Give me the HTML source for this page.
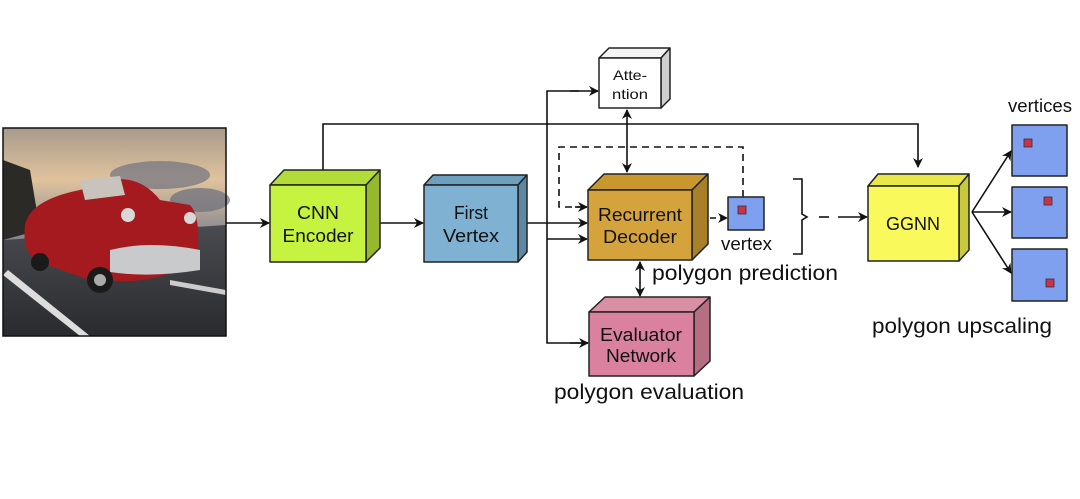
<!DOCTYPE html>
<html><head><meta charset="utf-8"><style>
html,body{margin:0;padding:0;background:#fff;}
svg{display:block;}
text{font-family:"Liberation Sans",sans-serif;fill:#111;}
</style></head><body>
<svg width="1080" height="499" viewBox="0 0 1080 499" xmlns="http://www.w3.org/2000/svg">
<defs>
<marker id="ah" markerWidth="10" markerHeight="10" refX="9" refY="5" orient="auto" markerUnits="userSpaceOnUse">
<path d="M0,0 L10,5 L0,10 L3,5 z" fill="#111"/></marker>
<marker id="ahs" markerWidth="10" markerHeight="10" refX="1" refY="5" orient="auto" markerUnits="userSpaceOnUse">
<path d="M10,0 L0,5 L10,10 L7,5 z" fill="#111"/></marker>
<linearGradient id="sky" x1="0" y1="0" x2="0" y2="1">
<stop offset="0" stop-color="#a89a8c"/><stop offset="0.25" stop-color="#e0c39c"/><stop offset="0.5" stop-color="#8c8a92"/><stop offset="1" stop-color="#3a3c40"/></linearGradient>
<linearGradient id="road" x1="0" y1="0" x2="0" y2="1">
<stop offset="0" stop-color="#4a4b50"/><stop offset="1" stop-color="#2a2b2e"/></linearGradient>
</defs>

<rect x="3" y="128" width="223" height="208" fill="url(#sky)"/>
<ellipse cx="160" cy="175" rx="50" ry="14" fill="#6f7280" opacity="0.7"/>
<ellipse cx="200" cy="200" rx="30" ry="12" fill="#6a6e7c" opacity="0.7"/>
<path d="M3,240 L226,225 L226,336 L3,336 z" fill="url(#road)"/>
<path d="M3,275 L80,336 L90,336 L8,270 z" fill="#ddd"/>
<path d="M170,280 L226,290 L226,295 L170,285 z" fill="#ccc"/>
<path d="M3,160 L30,170 L40,230 L3,240 z" fill="#2b2a26"/>
<path d="M25,225 Q30,200 80,190 L110,180 Q140,175 160,200 L190,205 Q200,215 198,250 L180,270 Q140,285 110,280 L90,280 Q60,270 35,260 Q22,250 25,225 z" fill="#a51a1f"/>
<path d="M80,180 L120,176 L125,195 L85,200 z" fill="#c8c4bd"/>
<path d="M110,250 Q150,240 200,250 L200,270 Q150,278 110,272 z" fill="#c9cacc"/>
<circle cx="128" cy="215" r="7" fill="#d8d8d8"/><circle cx="190" cy="218" r="6" fill="#d8d8d8"/>
<circle cx="100" cy="280" r="13" fill="#1a1a1a"/><circle cx="100" cy="280" r="6" fill="#aaa"/>
<circle cx="40" cy="262" r="9" fill="#1a1a1a"/>
<rect x="3" y="128" width="223" height="208" fill="none" stroke="#111" stroke-width="1.5"/>

<g stroke="#111" stroke-width="1.6" fill="none">
<line x1="226" y1="223" x2="269" y2="223" marker-end="url(#ah)"/>
<polyline points="323,170 323,124 918,124 918,167" marker-end="url(#ah)"/>
<line x1="366" y1="223" x2="423" y2="223" marker-end="url(#ah)"/>
<line x1="518" y1="223" x2="587" y2="223" marker-end="url(#ah)"/>
<line x1="547" y1="239" x2="587" y2="239" marker-end="url(#ah)"/>
<polyline points="579,91 547,91 547,343 588,343" />
<line x1="570" y1="91" x2="598" y2="91" marker-end="url(#ah)"/>
<line x1="570" y1="343" x2="588" y2="343" marker-end="url(#ah)"/>
<line x1="627" y1="110" x2="627" y2="172" marker-start="url(#ahs)" marker-end="url(#ah)"/>
<line x1="640" y1="262" x2="640" y2="296" marker-start="url(#ahs)" marker-end="url(#ah)"/>
<polyline points="743,197 743,147 559,147 559,207 580,207" stroke-dasharray="7,5"/>
<line x1="575" y1="207" x2="587" y2="207" marker-end="url(#ah)"/>
<line x1="710" y1="218" x2="727" y2="218" stroke-dasharray="6,4" marker-end="url(#ah)"/>
<path d="M793,179 L802,179 L802,214 L807,217 L802,220 L802,254 L793,254"/>
<line x1="819" y1="217" x2="829" y2="217"/>
<line x1="838" y1="217" x2="867" y2="217" marker-end="url(#ah)"/>
<line x1="972" y1="212" x2="1011" y2="151" marker-end="url(#ah)"/>
<line x1="972" y1="212" x2="1011" y2="212" marker-end="url(#ah)"/>
<line x1="972" y1="212" x2="1011" y2="273" marker-end="url(#ah)"/>
</g>

<g stroke="#222" stroke-width="1.5" stroke-linejoin="round">
<path d="M270,185 L284,170 L380,170 L366,185 z" fill="#b2dd38"/>
<path d="M366,185 L380,170 L380,248 L366,262 z" fill="#95b82c"/>
<rect x="270" y="185" width="96" height="77" fill="#c6f33f"/>
<path d="M424,185 L433,175 L527,175 L518,185 z" fill="#6f9fbf"/>
<path d="M518,185 L527,175 L527,252 L518,262 z" fill="#5c88a6"/>
<rect x="424" y="185" width="94" height="77" fill="#7eb1d2"/>
<path d="M588,190 L604,174 L708,174 L692,190 z" fill="#c8972e"/>
<path d="M692,190 L708,174 L708,244 L692,260 z" fill="#a8802a"/>
<rect x="588" y="190" width="104" height="70" fill="#d5a33b"/>
<path d="M599,58 L609,48 L670,48 L661,58 z" fill="#f4f4f4"/>
<path d="M661,58 L670,48 L670,99 L661,108 z" fill="#cfcfcf"/>
<rect x="599" y="58" width="62" height="50" fill="#fff"/>
<path d="M589,312 L605,297 L710,297 L694,312 z" fill="#d990a6"/>
<path d="M694,312 L710,297 L710,361 L694,376 z" fill="#b56e84"/>
<rect x="589" y="312" width="105" height="64" fill="#d9819e"/>
<path d="M868,186 L878,174 L969,174 L959,186 z" fill="#e8e84a"/>
<path d="M959,186 L969,174 L969,250 L959,261 z" fill="#c9c93c"/>
<rect x="868" y="186" width="91" height="75" fill="#f9f95c"/>
<rect x="728" y="197" width="36" height="33" fill="#7f9fef"/>
<rect x="1012" y="125" width="55" height="51" fill="#7f9fef"/>
<rect x="1012" y="187" width="55" height="51" fill="#7f9fef"/>
<rect x="1012" y="249" width="55" height="52" fill="#7f9fef"/>
</g>
<g fill="#c8334a" stroke="#333" stroke-width="0.8">
<rect x="738" y="206" width="8" height="8"/>
<rect x="1024" y="139" width="8" height="8"/>
<rect x="1044" y="197" width="8" height="8"/>
<rect x="1046" y="279" width="8" height="8"/>
</g>

<g font-size="18" text-anchor="middle">
<text x="318" y="219" textLength="42" lengthAdjust="spacingAndGlyphs">CNN</text><text x="318" y="242" textLength="71" lengthAdjust="spacingAndGlyphs">Encoder</text>
<text x="471" y="219" textLength="34" lengthAdjust="spacingAndGlyphs">First</text><text x="471" y="242" textLength="56" lengthAdjust="spacingAndGlyphs">Vertex</text>
<text x="640" y="221" textLength="84" lengthAdjust="spacingAndGlyphs">Recurrent</text><text x="640" y="243" textLength="74" lengthAdjust="spacingAndGlyphs">Decoder</text>
<text x="641" y="341" textLength="82" lengthAdjust="spacingAndGlyphs">Evaluator</text><text x="641" y="362" textLength="70" lengthAdjust="spacingAndGlyphs">Network</text>
<text x="913" y="230" textLength="54" lengthAdjust="spacingAndGlyphs">GGNN</text>
</g>
<g font-size="14" text-anchor="middle">
<text x="630" y="80" textLength="34" lengthAdjust="spacingAndGlyphs">Atte-</text><text x="630" y="99" textLength="36" lengthAdjust="spacingAndGlyphs">ntion</text>
</g>
<g font-size="18">
<text x="721" y="250" textLength="51" lengthAdjust="spacingAndGlyphs">vertex</text>
<text x="652" y="280" font-size="21" textLength="186" lengthAdjust="spacingAndGlyphs">polygon prediction</text>
<text x="1008" y="112" textLength="64" lengthAdjust="spacingAndGlyphs">vertices</text>
<text x="872" y="333" font-size="21" textLength="180" lengthAdjust="spacingAndGlyphs">polygon upscaling</text>
<text x="554" y="399" font-size="21" textLength="190" lengthAdjust="spacingAndGlyphs">polygon evaluation</text>
</g>
</svg>
</body></html>
